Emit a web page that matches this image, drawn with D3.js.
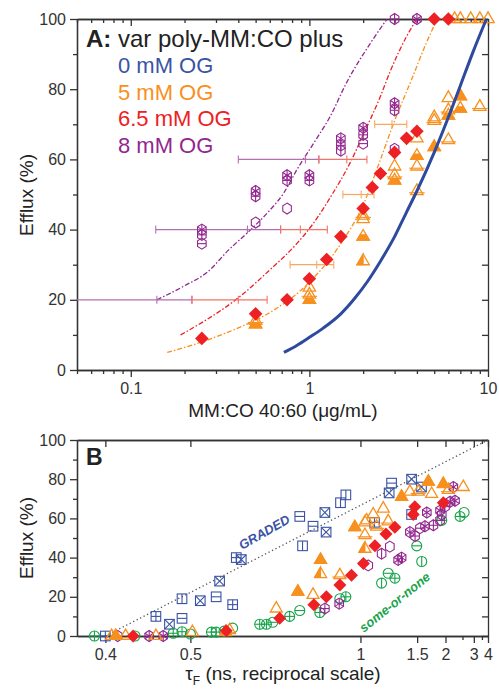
<!DOCTYPE html>
<html>
<head>
<meta charset="utf-8">
<script src="https://cdn.jsdelivr.net/npm/d3@7"></script>
<style>
body { margin: 0; background: #fff; }
svg { font-family: "Liberation Sans", Arial, sans-serif; }
.axis path, .axis line { stroke: #333; stroke-width: 1.3; }
.axis text { font-size: 16px; fill: #333; font-family: "Liberation Sans", Arial, sans-serif; }
</style>
</head>
<body>
<script>
// ---------- panel A data: [MM:CO ug/mL, efflux %, marker] ----------
var og8A = [
  [0.25, 40, 'x'], [0.25, 38.5, '+'], [0.25, 36, '-'],
  [0.5, 51, 'x'], [0.5, 49.5, '+'], [0.5, 42, 'o'],
  [0.75, 55.5, 'x'], [0.75, 54, '+'], [0.75, 46, 'o'],
  [1.0, 55.5, 'x'], [1.0, 54, '+'],
  [1.5, 66, 'x'], [1.5, 64, '+'], [1.5, 62.5, '|'],
  [2.0, 69, 'x'], [2.0, 67, '+'], [2.0, 64.5, '-'],
  [3.0, 76, 'x'], [3.0, 74, '+'], [3.0, 63, 'o'],
  [3.0, 100, '+'], [4.0, 100, 'x']
]
var og5A = [
  [0.5, 14, '-'], [0.5, 13, 'b'],
  [1.0, 23.5, 'o'], [1.0, 21.5, '-'], [1.0, 20, 'b'],
  [2.0, 44, '-'], [2.0, 43, 'o'], [2.0, 38, 'b'], [2.0, 31, 'h'],
  [3.0, 58, 'o'], [3.0, 55.5, '-'], [3.0, 54, 'b'],
  [4.0, 66, 'o'], [4.0, 61, 'b'], [4.0, 58, '-'], [4.0, 51, '-'],
  [5.0, 72, 'o'], [5.0, 71, '-'], [5.0, 63.5, 'f'],
  [6.0, 77.5, 'o'], [6.0, 74, '-'], [6.0, 72.5, 'b'], [6.0, 65.5, '-'],
  [7.0, 78, 'f'], [7.0, 74.5, 'b'], [9.0, 75, '-'],
  [6.5, 100, '-'], [7.0, 100, 'o'], [8.0, 100, 'o'], [9.0, 100, '-'], [10, 100, 'o']
]
var og65A = [
  [0.25, 9], [0.5, 16], [0.75, 20], [1.0, 26], [1.25, 31.5], [1.5, 38],
  [2.0, 46], [2.25, 52], [2.5, 56], [3.0, 62], [3.5, 66], [4.0, 68],
  [5.0, 100], [6.0, 100]
]
// fitted curves
var og0Curve = [[0.72, 5], [0.85, 7], [1.0, 9.3], [1.2, 12], [1.5, 16], [1.8, 20.5], [2.1, 25],
  [2.5, 31], [3.0, 38], [3.5, 45], [4.0, 51], [5.0, 62], [6.0, 72], [7.0, 81], [8.3, 91], [9.8, 100]]
var og5Curve = [[0.16, 5], [0.25, 8], [0.4, 12], [0.63, 17], [1.0, 25], [1.5, 36], [2.0, 47],
  [2.5, 60], [3.0, 71], [3.75, 83], [4.5, 93], [5.2, 100]]
var og65Curve = [[0.19, 10], [0.25, 13.5], [0.41, 21], [0.6, 28.5], [0.85, 36], [1.06, 42],
  [1.34, 50], [1.69, 59], [2.0, 67], [2.5, 78], [2.83, 85], [3.5, 95], [4.0, 100]]
var og8Curve = [[0.14, 20], [0.2, 24], [0.27, 28], [0.35, 34], [0.47, 40], [0.6, 45.5],
  [0.72, 50.5], [0.85, 57], [1.1, 66], [1.3, 72], [1.62, 82], [2.19, 93], [2.72, 100]]
// horizontal error bars: [efflux, low, mid, high]
var og8Err = [[20, 0.03, 0.14, 0.22], [40, 0.138, 0.45, 0.69], [60, 0.40, 0.95, 1.13]]
var og65Err = [[20, 0.22, 0.40, 0.58], [40, 0.69, 0.89, 1.26], [60, 1.13, 1.62, 2.1]]
var og5Err = [[30, 0.78, 1.1, 1.37], [50, 1.54, 1.95, 2.3], [70, 2.32, 2.9, 3.51]]
var legendA = ['0 mM OG', '5 mM OG', '6.5 mM OG', '8 mM OG']

// ---------- panel B data: [tau_F ns, efflux %, marker] ----------
var blueB = [
  [0.40, 0, '+'], [0.454, 10, '+'], [0.471, 6, 'x'], [0.488, 19, '|'], [0.488, 9, '-'],
  [0.515, 18, 'x'], [0.541, 20, '-'], [0.547, 28, 'x'], [0.571, 16, '+'], [0.578, 40, '+'],
  [0.588, 39, 'x'], [0.737, 61, '-'], [0.746, 46, '|'], [0.782, 56, '-'], [0.827, 63, 'x'],
  [0.832, 53, 'x'], [0.895, 68, '|'], [0.921, 72, '|'], [1.09, 58, '+'], [1.203, 73, 'x'],
  [1.224, 78, '-'], [1.43, 80, 'x'], [1.43, 62, '-'], [1.56, 76, 'x']
]
var greenB = [
  [0.39, 0, '+'], [0.43, 0, '-'], [0.476, 1.4, '+'], [0.488, 2.2, '+'], [0.5, 1, 'o'],
  [0.533, 2, '+'], [0.541, 2, '+'], [0.555, 2.5, '|'], [0.571, 4, 'o'], [0.628, 6, '+'],
  [0.644, 6, '+'], [0.66, 7, '-'], [0.706, 10, '+'], [0.737, 13, '-'], [0.807, 12, '+'],
  [0.892, 19, 'o'], [0.921, 20, '+'], [1.142, 27, '|'], [1.195, 32, '-'], [1.254, 29.5, '+'],
  [1.495, 46, '-'], [1.563, 38, '|'], [1.916, 59, '+'], [2.414, 61, '+'], [2.56, 63, 'o']
]
var purpleB = [
  [0.412, 0, 'o'], [0.446, 0, 'x'], [0.463, 0, 'x'], [0.827, 14, '+'], [0.889, 16.5, 'x'],
  [1.048, 36, 'o'], [1.142, 42, '|'], [1.209, 45.6, 'o'], [1.285, 38.8, 'x'], [1.319, 40, 'x'],
  [1.41, 53, 'x'], [1.473, 51, '+'], [1.538, 55, '-'], [1.612, 56, 'x'], [1.64, 63, 'x'],
  [1.751, 56.5, '+'], [1.88, 64, 'x'], [1.88, 59, '-'], [1.916, 62, '|'], [1.988, 66, '+'],
  [2.114, 68.5, 'x'], [2.252, 69, 'x'], [2.203, 76, 'x']
]
var orangeB = [
  [0.406, 0, 'o'], [0.41, 0, 'f'], [0.42, 0, '-'], [0.454, 0, 'o'], [0.503, 2, 'o'],
  [0.558, 2, 'b'], [0.565, 3, 'o'], [0.669, 14, 'o'], [0.731, 22.6, 'f'], [0.782, 21, 'o'],
  [0.81, 38.8, 'f'], [0.81, 31.6, 'h'], [0.892, 31, '-'], [0.968, 55.5, 'f'], [1.027, 51.5, '-'],
  [1.027, 58, 'o'], [1.027, 44.5, 'h'], [1.037, 59, 'o'], [1.081, 62, 'o'], [1.105, 55.8, '-'],
  [1.155, 65, 'o'], [1.195, 58.5, '-'], [1.319, 71, 'f'], [1.41, 73.6, 'o'], [1.515, 73.6, '-'],
  [1.664, 78.7, 'f'], [1.72, 72.5, 'o'], [1.95, 77.5, 'f'], [2.07, 74.5, '-'], [2.53, 76, 'o']
]
var redB = [
  [0.428, 0], [0.559, 2.7], [0.678, 9], [0.785, 16], [0.833, 20], [0.892, 26], [0.95, 31],
  [1.018, 37], [1.093, 46], [1.177, 52], [1.254, 55.5], [1.45, 62], [1.47, 66], [1.95, 68]
]
var gradedLine = [[0.4, 0], [4, 100]]

var blue = '#3a53a4', orange = '#f7901e', red = '#ed2024', purple = '#92278f', green = '#17a34a'

var svg = d3.select('body').append('svg').attr('width', 499).attr('height', 691)

var xA = d3.scaleLog().domain([0.05, 10]).range([77, 488])
var yA = d3.scaleLinear().domain([0, 100]).range([370, 19])
var xR = d3.scaleLinear().domain([1 / 0.375, 1 / 4]).range([77, 488])   // reciprocal tau
var xB = function (t) { return xR(1 / t) }
var yB = d3.scaleLinear().domain([0, 100]).range([636, 440])

// ---------- symbols ----------
function marks(s, kind, a, b) {
  // a = half width, b = half height
  if (kind === 'x') {
    s.append('line').attr('x1', -a).attr('y1', -b).attr('x2', a).attr('y2', b)
    s.append('line').attr('x1', a).attr('y1', -b).attr('x2', -a).attr('y2', b)
  }
  if (kind === '+' || kind === '|') s.append('line').attr('x1', 0).attr('x2', 0).attr('y1', -b).attr('y2', b)
  if (kind === '+' || kind === '-') s.append('line').attr('y1', 0).attr('y2', 0).attr('x1', -a).attr('x2', a)
}

function sym(g, shape, kind, cx, cy, col, r) {
  var s = g.append('g').attr('transform', 'translate(' + cx + ',' + cy + ')')
    .attr('stroke', col).attr('stroke-width', 1.1).attr('fill', 'none')
  if (shape === 'hex') {
    var pts = d3.range(6).map(function (k) {
      var an = Math.PI / 3 * k - Math.PI / 2
      return [r * 0.9 * Math.cos(an), r * Math.sin(an)]
    })
    s.append('path').attr('d', 'M' + pts.join('L') + 'Z')
    if (kind === 'x') { marks(s, 'x', r * 0.78, r * 0.5); marks(s, '|', 0, r) }
    if (kind === '+') { marks(s, '|', 0, r); marks(s, '-', r * 0.78, 0) }
    if (kind === '-') marks(s, '-', r * 0.78, 0)
    if (kind === '|') marks(s, '|', 0, r)
  } else if (shape === 'tri') {
    var h = r * 1.732
    var tri = [[0, -2 * h / 3], [r, h / 3], [-r, h / 3]]
    if (kind === 'f') s.append('path').attr('d', 'M' + tri.join('L') + 'Z').attr('fill', col)
    if (kind === 'h') s.append('path').attr('d', 'M0,' + (-2 * h / 3) + 'L0,' + (h / 3) + 'L' + (-r) + ',' + (h / 3) + 'Z').attr('fill', col)
    if (kind === 'b') s.append('path').attr('d', 'M' + (-r / 2) + ',' + (-h / 6) + 'L' + (r / 2) + ',' + (-h / 6) + 'L' + r + ',' + (h / 3) + 'L' + (-r) + ',' + (h / 3) + 'Z').attr('fill', col)
    s.append('path').attr('d', 'M' + tri.join('L') + 'Z').attr('stroke-width', 1.3)
    if (kind === '-') s.append('line').attr('x1', -r * 1.25).attr('x2', r * 1.25).attr('y1', h / 6).attr('y2', h / 6)
  } else if (shape === 'dia') {
    s.append('path').attr('d', 'M0,' + (-r) + 'L' + r + ',0L0,' + r + 'L' + (-r) + ',0Z').attr('fill', col).attr('stroke', 'none')
  } else if (shape === 'sq') {
    s.append('rect').attr('x', -r).attr('y', -r).attr('width', 2 * r).attr('height', 2 * r)
    marks(s, kind, r, r)
  } else if (shape === 'circ') {
    s.append('circle').attr('r', r)
    marks(s, kind, r, r)
  }
}

// ---------- axes helper ----------
function addAxis(g, axis, tx, ty) {
  return g.append('g').attr('class', 'axis').attr('transform', 'translate(' + tx + ',' + ty + ')').call(axis)
}

// ================= PANEL A =================
var gA = svg.append('g')
gA.append('clipPath').attr('id', 'clipA').append('rect').attr('x', 77).attr('y', 19).attr('width', 411).attr('height', 351)

var aMajor = [0.1, 1, 10]
var aMinor = [0.05, 0.06, 0.07, 0.08, 0.09, 0.2, 0.3, 0.4, 0.5, 0.6, 0.7, 0.8, 0.9, 2, 3, 4, 5, 6, 7, 8, 9]
var yMaj = [0, 20, 40, 60, 80, 100], yMin = [10, 30, 50, 70, 90], yAll = d3.range(0, 101, 10)

addAxis(gA, d3.axisBottom(xA).tickValues(aMinor).tickSize(4).tickSizeOuter(0).tickFormat(''), 0, 370)
addAxis(gA, d3.axisBottom(xA).tickValues(aMajor).tickSize(7).tickSizeOuter(0).tickPadding(6).tickFormat(d3.format('~g')), 0, 370)
addAxis(gA, d3.axisTop(xA).tickValues(aMinor).tickSize(-4).tickSizeOuter(0).tickFormat(''), 0, 19)
addAxis(gA, d3.axisTop(xA).tickValues(aMajor).tickSize(-7).tickSizeOuter(0).tickFormat(''), 0, 19)
addAxis(gA, d3.axisLeft(yA).tickValues(yMin).tickSize(4).tickSizeOuter(0).tickFormat(''), 77, 0)
addAxis(gA, d3.axisLeft(yA).tickValues(yMaj).tickSize(7).tickSizeOuter(0).tickPadding(4), 77, 0)
addAxis(gA, d3.axisRight(yA).tickValues(yAll).tickSize(-6).tickSizeOuter(0).tickFormat(''), 488, 0)

var lineA = d3.line().x(function (d) { return xA(d[0]) }).y(function (d) { return yA(d[1]) }).curve(d3.curveMonotoneX)
var fits = gA.append('g').attr('clip-path', 'url(#clipA)')
;[[og8Curve, purple], [og65Curve, red], [og5Curve, orange]].forEach(function (c) {
  fits.append('path').datum(c[0]).attr('d', lineA).attr('fill', 'none').attr('stroke', c[1])
    .attr('stroke-width', 1.3).attr('stroke-dasharray', '5,2,1.5,2')
})

function errBars(rows, col) {
  rows.forEach(function (d) {
    var yy = yA(d[0])
    fits.append('line').attr('x1', xA(d[1])).attr('x2', xA(d[3])).attr('y1', yy).attr('y2', yy)
      .attr('stroke', col).attr('stroke-width', 1.2)
    ;[d[1], d[2], d[3]].forEach(function (v) {
      fits.append('line').attr('x1', xA(v)).attr('x2', xA(v)).attr('y1', yy - 4).attr('y2', yy + 4)
        .attr('stroke', col).attr('stroke-width', 1.1)
    })
  })
}
errBars(og8Err, '#b36fb1')
errBars(og5Err, '#f9a862')
errBars(og65Err, '#f37468')

var ptsA = gA.append('g')
og8A.forEach(function (d) { sym(ptsA, 'hex', d[2], xA(d[0]), yA(d[1]), purple, 5.5) })
og5A.forEach(function (d) { sym(ptsA, 'tri', d[2], xA(d[0]), yA(d[1]), orange, 6.2) })
og65A.forEach(function (d) { sym(ptsA, 'dia', 'f', xA(d[0]), yA(d[1]), red, 6.8) })

gA.append('path').datum(og0Curve).attr('d', lineA).attr('fill', 'none').attr('stroke', '#2d4a9e').attr('stroke-width', 3)

var title = gA.append('text').attr('x', 86).attr('y', 47).attr('font-size', 24).attr('fill', '#222')
title.append('tspan').attr('font-weight', 'bold').text('A:')
title.append('tspan').text(' var poly-MM:CO plus')
var legCols = [blue, orange, red, purple]
legendA.forEach(function (t, i) {
  gA.append('text').attr('x', 118).attr('y', 73 + i * 26.5).attr('font-size', 22).attr('fill', legCols[i]).text(t)
})
gA.append('text').attr('transform', 'translate(33,195) rotate(-90)').attr('text-anchor', 'middle')
  .attr('font-size', 19).attr('fill', '#222').text('Efflux (%)')
gA.append('text').attr('x', 283).attr('y', 417).attr('text-anchor', 'middle')
  .attr('font-size', 19).attr('fill', '#222').text('MM:CO 40:60 (\u03bcg/mL)')

// ================= PANEL B =================
var gB = svg.append('g')
var bMajor = [0.4, 0.5, 1, 1.5, 2, 3, 4], bMinor = [2.5, 3.5]
var rec = function (a) { return a.map(function (t) { return 1 / t }) }
var recFmt = function (r) { return d3.format('~g')(+(1 / r).toFixed(2)) }

addAxis(gB, d3.axisBottom(xR).tickValues(rec(bMinor)).tickSize(4).tickSizeOuter(0).tickFormat(''), 0, 636)
addAxis(gB, d3.axisBottom(xR).tickValues(rec(bMajor)).tickSize(7).tickSizeOuter(0).tickPadding(6).tickFormat(recFmt), 0, 636)
addAxis(gB, d3.axisTop(xR).tickValues(rec(bMinor)).tickSize(-4).tickSizeOuter(0).tickFormat(''), 0, 440)
addAxis(gB, d3.axisTop(xR).tickValues(rec(bMajor)).tickSize(-7).tickSizeOuter(0).tickFormat(''), 0, 440)
addAxis(gB, d3.axisLeft(yB).tickValues(yMin).tickSize(4).tickSizeOuter(0).tickFormat(''), 77, 0)
addAxis(gB, d3.axisLeft(yB).tickValues(yMaj).tickSize(7).tickSizeOuter(0).tickPadding(4), 77, 0)
addAxis(gB, d3.axisRight(yB).tickValues(yAll).tickSize(-6).tickSizeOuter(0).tickFormat(''), 488, 0)

var lineB = d3.line().x(function (d) { return xB(d[0]) }).y(function (d) { return yB(d[1]) })
gB.append('path').datum(gradedLine).attr('d', lineB).attr('fill', 'none').attr('stroke', '#555')
  .attr('stroke-width', 1.3).attr('stroke-dasharray', '1.3,2.6')

var ptsB = gB.append('g')
blueB.forEach(function (d) { sym(ptsB, 'sq', d[2], xB(d[0]), yB(d[1]), blue, 4.8) })
greenB.forEach(function (d) { sym(ptsB, 'circ', d[2], xB(d[0]), yB(d[1]), green, 5) })
purpleB.forEach(function (d) { sym(ptsB, 'hex', d[2], xB(d[0]), yB(d[1]), purple, 5.5) })
orangeB.forEach(function (d) { sym(ptsB, 'tri', d[2], xB(d[0]), yB(d[1]), orange, 6) })
redB.forEach(function (d) { sym(ptsB, 'dia', 'f', xB(d[0]), yB(d[1]), red, 6.5) })

function note(t, tau, e, ang, col) {
  gB.append('text').attr('transform', 'translate(' + xB(tau) + ',' + yB(e) + ') rotate(' + ang + ')')
    .attr('text-anchor', 'middle').attr('font-size', 13).attr('font-weight', 'bold').attr('font-style', 'italic')
    .attr('fill', col).text(t)
}
note('GRADED', 0.644, 51, -29.5, blue)
note('some-or-none', 1.279, 15.5, -39, green)

gB.append('text').attr('x', 86).attr('y', 465).attr('font-size', 23).attr('font-weight', 'bold').attr('fill', '#222').text('B')
gB.append('text').attr('transform', 'translate(33,538) rotate(-90)').attr('text-anchor', 'middle')
  .attr('font-size', 19).attr('fill', '#222').text('Efflux (%)')
var xl = gB.append('text').attr('x', 283).attr('y', 680).attr('text-anchor', 'middle').attr('font-size', 19).attr('fill', '#222')
xl.append('tspan').text('\u03c4')
xl.append('tspan').attr('font-size', 12).attr('dy', 5).text('F')
xl.append('tspan').attr('dy', -5).text(' (ns, reciprocal scale)')
</script>
</body>
</html>
